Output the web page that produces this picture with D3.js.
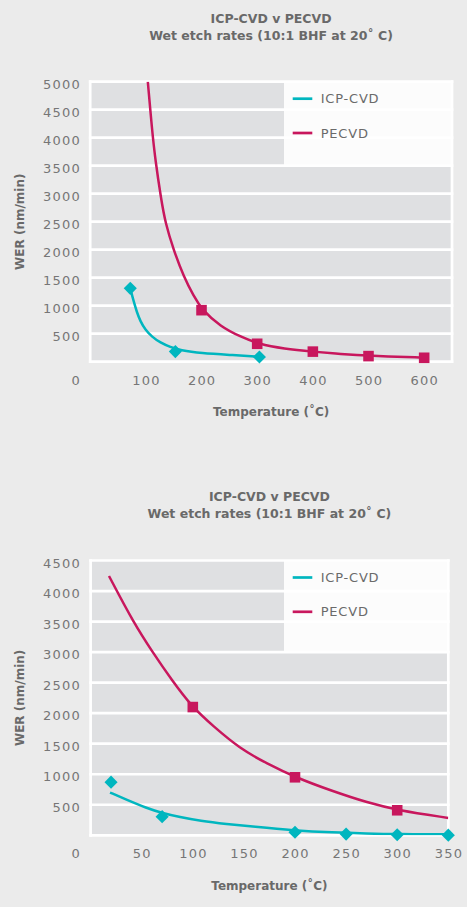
<!DOCTYPE html>
<html><head><meta charset="utf-8">
<script src="https://cdn.jsdelivr.net/npm/d3@7"></script>
<style>
body{margin:0;background:#ebebeb;}
svg{display:block;font-family:"DejaVu Sans",sans-serif;}
</style>
</head><body>
<svg id="c" width="467" height="907"></svg>
<script>
// ---------- text ----------
const seriesNames = ["ICP-CVD", "PECVD"];
const titleLines = ["ICP-CVD v PECVD", "Wet etch rates (10:1 BHF at 20˚ C)"];
const xTitle = "Temperature (˚C)";
const yTitle = "WER (nm/min)";

// ---------- chart 1 ----------
const c1XTicks = [100, 200, 300, 400, 500, 600];
const c1YTicks = [500, 1000, 1500, 2000, 2500, 3000, 3500, 4000, 4500, 5000];
const c1IcpPoints = [[72, 1310], [153, 180], [304, 85]];
const c1PecvdPoints = [[200, 920], [300, 320], [400, 180], [500, 100], [600, 70]];
const c1IcpTrend = [[72, 1310], [78, 1080], [84, 880], [90, 725], [99, 570], [111, 445], [126, 340],
  [144, 260], [162, 205], [198, 152], [258, 118], [304, 89]];
const c1PecvdTrend = [[103.5, 5000], [111, 4150], [117, 3600], [127.5, 2900], [135, 2480], [150, 1990],
  [168, 1520], [186, 1170], [201, 925], [234, 628], [270, 446], [302, 318], [348, 230], [401, 178],
  [450, 137], [500, 104], [600, 72]];

// ---------- chart 2 ----------
const c2XTicks = [50, 100, 150, 200, 250, 300, 350];
const c2YTicks = [500, 1000, 1500, 2000, 2500, 3000, 3500, 4000, 4500];
const c2IcpPoints = [[20, 870], [70, 305], [200, 50], [250, 20], [300, 10], [350, 2]];
const c2PecvdPoints = [[100, 2100], [200, 950], [300, 410]];
const c2IcpTrend = [[19, 700], [35, 585], [55, 445], [69, 370], [87.5, 298], [107, 238], [133, 185],
  [159, 142], [199, 80], [237, 45], [270, 28], [300, 18], [350, 16]];
const c2PecvdTrend = [[18, 4246], [42, 3482], [61, 2990], [79, 2552], [99, 2105], [120, 1787], [146, 1420],
  [172, 1180], [200, 951], [237, 721], [270, 540], [300, 410], [350, 285]];

const colors = ["#00b6bf", "#c8175d"];

const svg = d3.select("#c");
svg.append("rect").attr("width", 467).attr("height", 907).attr("fill", "#ebebeb");

function drawChart(id, cfg) {
  const g = svg.append("g");
  const x = d3.scaleLinear().domain([0, cfg.xMax]).range([cfg.left, cfg.right]);
  const y = d3.scaleLinear().domain([0, cfg.yMax]).range([cfg.bottom, cfg.top]);
  const x0 = x(0), x1 = x(cfg.xMax), yT = y(cfg.yMax), yB = y(0);
  const lw = 2.7;

  g.append("rect").attr("x", x0).attr("y", yT).attr("width", x1 - x0).attr("height", yB - yT).attr("fill", "#dfe0e2");
  g.append("rect").attr("x", cfg.legendLeft).attr("y", yT)
    .attr("width", x1 - cfg.legendLeft).attr("height", y(cfg.legendTo) - yT).attr("fill", "#fcfcfc");
  g.selectAll(".grid").data([0].concat(cfg.yTicks)).enter().append("line")
    .attr("x1", x0 - lw / 2).attr("x2", x1 + lw / 2)
    .attr("y1", d => y(d)).attr("y2", d => y(d))
    .attr("stroke", "#fff").attr("stroke-width", lw);
  [x0, x1].forEach(v => g.append("line").attr("x1", v).attr("x2", v)
    .attr("y1", yT - lw / 2).attr("y2", yB + lw / 2).attr("stroke", "#fff").attr("stroke-width", lw));

  svg.append("clipPath").attr("id", id).append("rect")
    .attr("x", x0).attr("y", yT).attr("width", x1 - x0).attr("height", yB - yT);

  const line = d3.line().x(d => x(d[0])).y(d => y(d[1])).curve(d3.curveBasis);
  [cfg.icpTrend, cfg.pecvdTrend].forEach((t, i) => {
    g.append("path").attr("d", line(t)).attr("fill", "none")
      .attr("stroke", colors[i]).attr("stroke-width", 2.5).attr("clip-path", `url(#${id})`);
  });

  const diamond = d3.symbol().type(d3.symbolSquare).size(86);
  const square = d3.symbol().type(d3.symbolSquare).size(112);
  g.selectAll(".icp").data(cfg.icpPoints).enter().append("path")
    .attr("d", diamond).attr("fill", colors[0])
    .attr("transform", d => `translate(${x(d[0])},${y(d[1])}) rotate(45)`);
  g.selectAll(".pe").data(cfg.pecvdPoints).enter().append("path")
    .attr("d", square).attr("fill", colors[1])
    .attr("transform", d => `translate(${x(d[0])},${y(d[1])})`);

  const tickStyle = s => s.attr("fill", "#767676").attr("font-size", "13px").attr("letter-spacing", "1.2px");
  g.selectAll(".yt").data(cfg.yTicks).enter().append("text")
    .attr("x", 81).attr("y", d => y(d) + 2.5).attr("dy", "0.36em").attr("text-anchor", "end")
    .text(d => d).call(tickStyle);
  g.append("text").attr("x", 81).attr("y", yB + 18.5).attr("dy", "0.36em").attr("text-anchor", "end")
    .text(0).call(tickStyle);
  g.selectAll(".xt").data(cfg.xTicks).enter().append("text")
    .attr("x", d => x(d) + 0.6).attr("y", yB + 18.5).attr("dy", "0.36em").attr("text-anchor", "middle")
    .text(d => d).call(tickStyle);

  const cx = (x0 + x1) / 2;
  const bold = (s, fs) => s.attr("fill", "#696969").attr("font-size", fs || "12px").attr("font-weight", "bold");
  g.append("text").attr("x", cx).attr("y", yB + 50).attr("dy", "0.36em").attr("text-anchor", "middle")
    .text(xTitle).call(bold);
  g.append("text").attr("transform", `translate(20,${(yT + yB) / 2}) rotate(-90)`)
    .attr("dy", "0.36em").attr("text-anchor", "middle").text(yTitle).call(bold);
  titleLines.forEach((t, i) => {
    g.append("text").attr("x", cx).attr("y", yT - 63.7 + i * 17).attr("dy", "0.36em")
      .attr("text-anchor", "middle").text(t).call(bold, "12.5px");
  });

  seriesNames.forEach((n, i) => {
    const ly = yT + 17 + i * 34.3;
    g.append("line").attr("x1", 292.7).attr("x2", 312.3).attr("y1", ly).attr("y2", ly)
      .attr("stroke", colors[i]).attr("stroke-width", 2.7);
    g.append("text").attr("x", 320.7).attr("y", ly).attr("dy", "0.36em").text(n)
      .attr("fill", "#6a6a6a").attr("font-size", "13px").attr("letter-spacing", "0.8px");
  });
}

drawChart("clip1", {
  left: 90.2, right: 452, top: 81.7, bottom: 361.7, xMax: 650, yMax: 5000,
  xTicks: c1XTicks, yTicks: c1YTicks, legendLeft: 284, legendTo: 3500,
  icpPoints: c1IcpPoints, pecvdPoints: c1PecvdPoints, icpTrend: c1IcpTrend, pecvdTrend: c1PecvdTrend
});
drawChart("clip2", {
  left: 90.6, right: 448.3, top: 560.5, bottom: 835.3, xMax: 350, yMax: 4500,
  xTicks: c2XTicks, yTicks: c2YTicks, legendLeft: 284, legendTo: 3000,
  icpPoints: c2IcpPoints, pecvdPoints: c2PecvdPoints, icpTrend: c2IcpTrend, pecvdTrend: c2PecvdTrend
});
</script>
</body></html>
